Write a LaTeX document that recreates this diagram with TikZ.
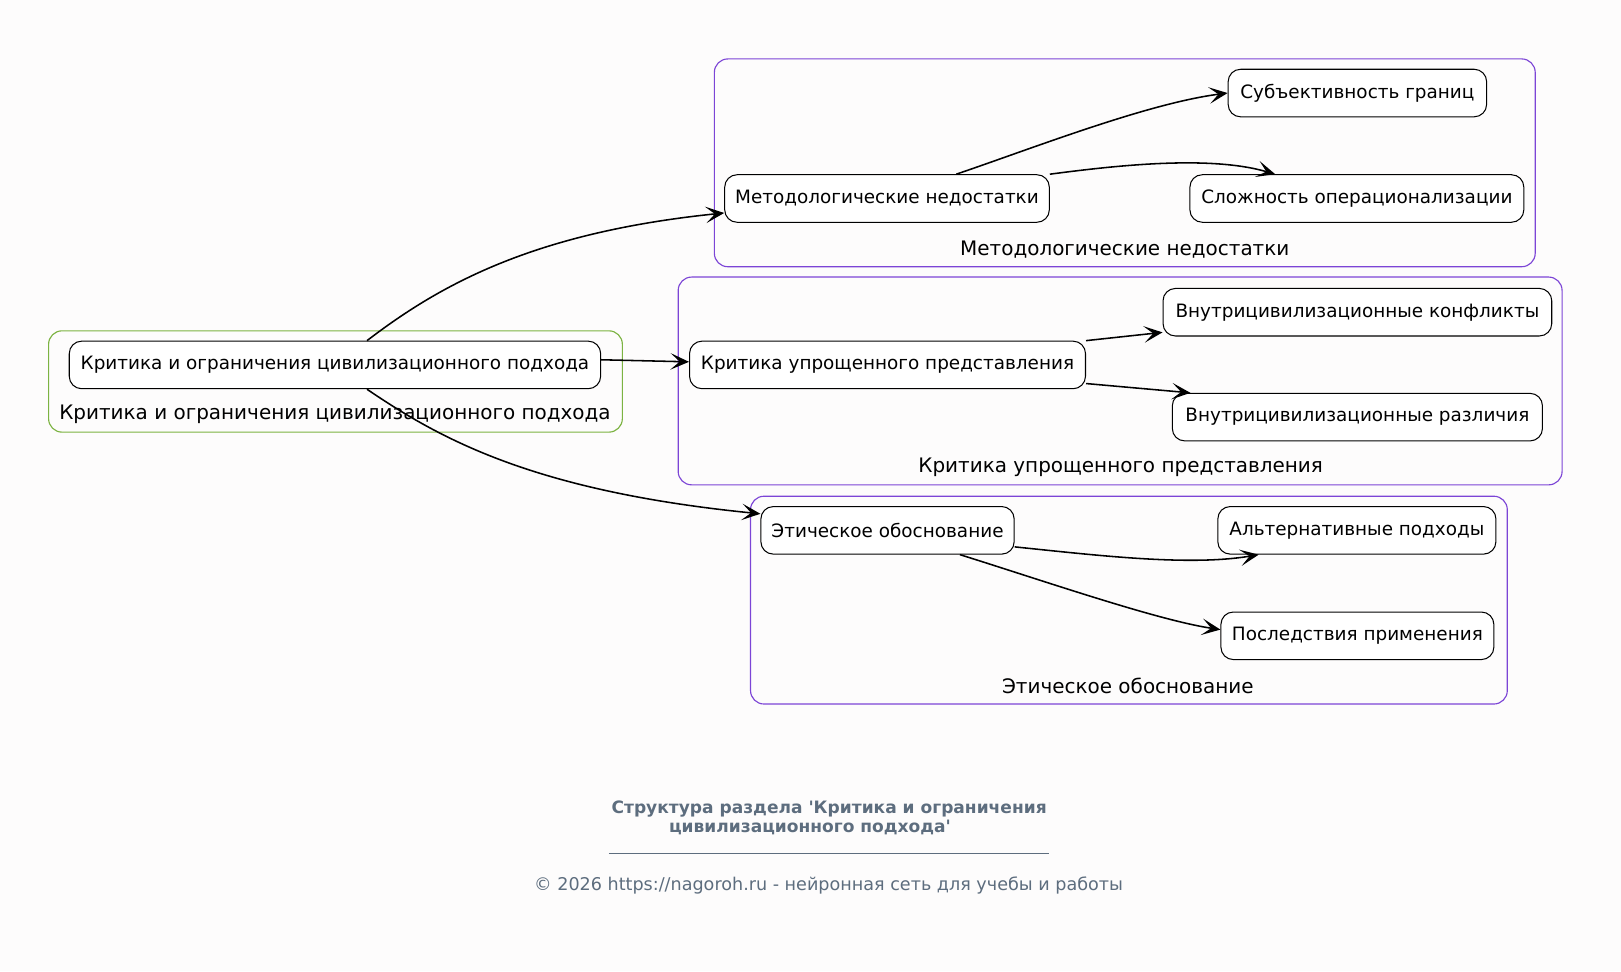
\documentclass[tikz,border=0pt]{standalone}
\usepackage{fontspec}
\setmainfont{DejaVu Sans}
\usetikzlibrary{arrows.meta,calc}
\definecolor{bg}{HTML}{FDFCFC}
\definecolor{clpurple}{HTML}{7C45D6}
\definecolor{clgreen}{HTML}{7CB342}
\definecolor{foot}{HTML}{5D6D7E}
\newcommand\sq{\XeTeXglyph\XeTeXcharglyph"0027\relax}
\tikzset{
  box/.style={draw=black, line width=1pt, rounded corners=12pt, fill=white,
    minimum height=46pt, inner sep=0pt, font=\fontsize{17.8}{21}\selectfont},
  cluster/.style={line width=1.1pt, rounded corners=13pt},
  cllabel/.style={font=\fontsize{19.3}{23}\selectfont, inner sep=0pt},
  edge/.style={draw=black, line width=1.5pt, -{Stealth[length=18pt,width=16pt,inset=9pt]}},
}
\begin{document}
\begin{tikzpicture}[x=1pt,y=-1pt]
\useasboundingbox[fill=bg] (0,0) rectangle (1568,939.3);
% clusters
\draw[cluster, draw=clgreen] (47,320) rectangle (602,418);
\draw[cluster, draw=clpurple] (691,57) rectangle (1485,258);
\draw[cluster, draw=clpurple] (656,268) rectangle (1511,469);
\draw[cluster, draw=clpurple] (726,480) rectangle (1458,681);
\node[cllabel] (l0) at (324,401) {Критика и ограничения цивилизационного подхода};
\node[cllabel] (l1) at (1088,241) {Методологические недостатки};
\node[cllabel] (l2) at (1084,452) {Критика упрощенного представления};
\node[cllabel] (l3) at (1091,663) {Этическое обоснование};
% nodes
\node[box, minimum width=514pt] (root) at (324,353) {Критика и ограничения цивилизационного подхода};
\node[box, minimum width=314pt] (met) at (858,192) {Методологические недостатки};
\node[box, minimum width=250pt] (sub) at (1313,90) {Субъективность границ};
\node[box, minimum width=323pt] (slo) at (1312.5,192) {Сложность операционализации};
\node[box, minimum width=383pt] (krit) at (858.5,353) {Критика упрощенного представления};
\node[box, minimum width=376pt] (konf) at (1313,302) {Внутрицивилизационные конфликты};
\node[box, minimum width=358pt] (raz) at (1313,403.5) {Внутрицивилизационные различия};
\node[box, minimum width=245pt] (eth) at (858.5,513) {Этическое обоснование};
\node[box, minimum width=269pt] (alt) at (1312.5,513) {Альтернативные подходы};
\node[box, minimum width=264pt] (pos) at (1313,615) {Последствия применения};
% edges
\draw[edge] ([xshift=31pt]root.north) .. controls (425,276) and (515,225) .. ([yshift=-14pt]met.west);
\draw[edge] ([yshift=5pt]root.east) -- ([yshift=3pt]krit.west);
\draw[edge] ([xshift=31pt]root.south) .. controls (425,424) and (515,475) .. ([yshift=16pt]eth.west);
\draw[edge] ([xshift=67pt]met.north) .. controls (1000,143) and (1110,100) .. (sub.west);
\draw[edge] (met.north east) .. controls (1080,160) and (1170,150) .. ([xshift=-79pt]slo.north);
\draw[edge] (krit.north east) -- ([yshift=4pt]konf.south west);
\draw[edge] ([yshift=-18pt]krit.east) -- ([xshift=18pt]raz.north west);
\draw[edge] ([yshift=-16pt]eth.east) .. controls (1060,537) and (1150,548) .. ([xshift=40pt]alt.south west);
\draw[edge] ([xshift=70pt]eth.south) .. controls (1010,562) and (1120,600) .. ([yshift=6pt]pos.west);
% footer
\node[font=\bfseries\fontsize{16.5}{19}\selectfont, text=foot, inner sep=0pt] (t1) at (802,783) {Структура раздела \sq Критика и ограничения};
\node[font=\bfseries\fontsize{16.5}{19}\selectfont, text=foot, inner sep=0pt] (t2) at (783.5,800) {цивилизационного подхода\sq};
\draw[foot, line width=0.9pt] (589,826) -- (1015,826);
\node[font=\fontsize{17}{20}\selectfont, text=foot, inner sep=0pt] (cp) at (801.5,857) {© 2026 https://nagoroh.ru - нейронная сеть для учебы и работы};
\end{tikzpicture}
\end{document}
